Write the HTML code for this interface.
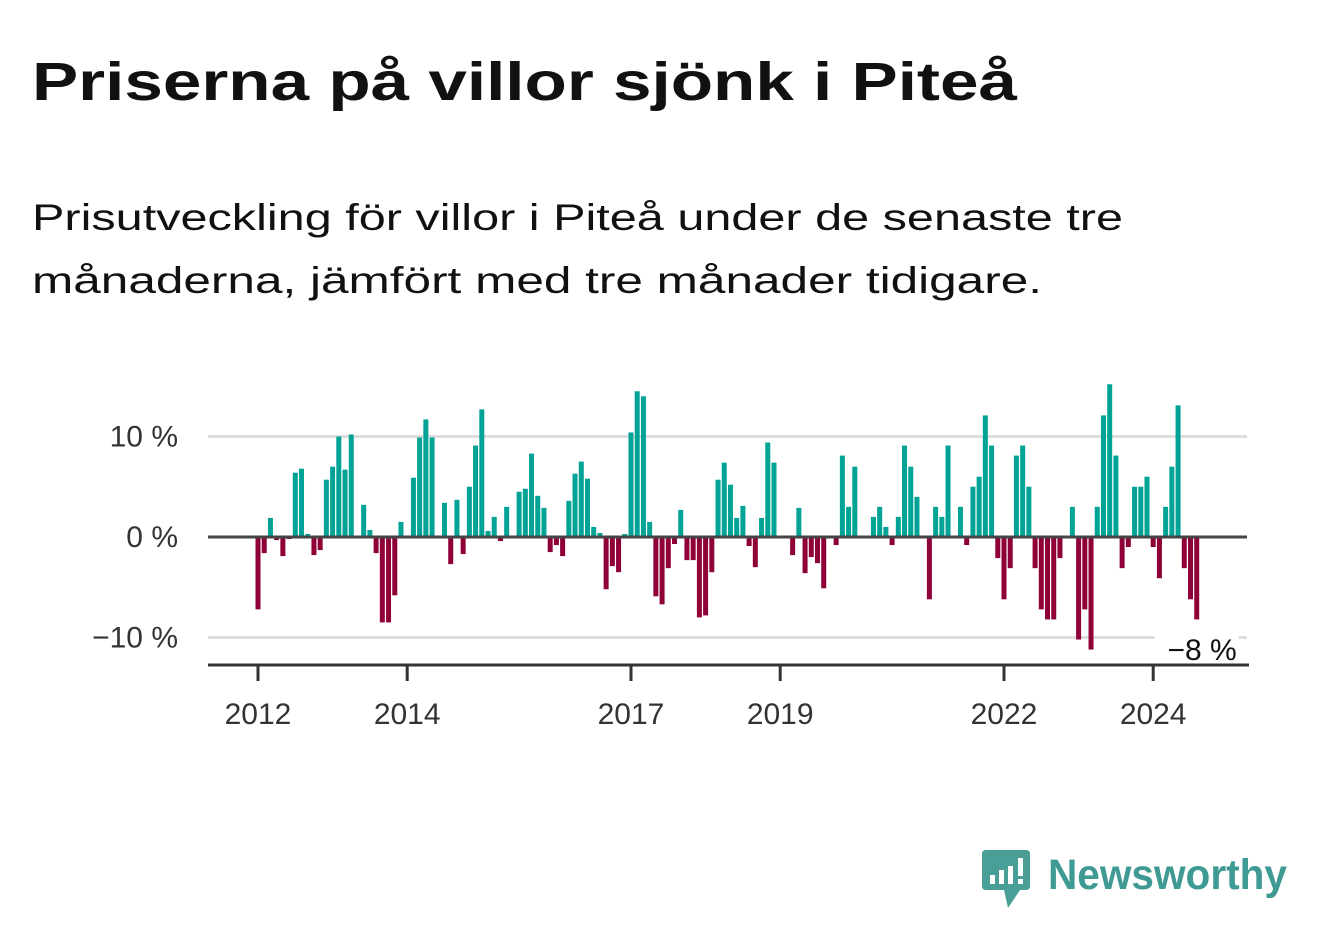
<!DOCTYPE html>
<html><head><meta charset="utf-8"><style>
html,body{margin:0;padding:0;background:#fff;}
svg{display:block;font-family:"Liberation Sans",sans-serif;}
</style></head><body>
<svg id="chart" width="1322" height="939" viewBox="0 0 1322 939" xmlns="http://www.w3.org/2000/svg">
<text x="32" y="100" font-size="54" font-weight="bold" fill="#111" textLength="985" lengthAdjust="spacingAndGlyphs">Priserna på villor sjönk i Piteå</text>
<text x="32" y="230" font-size="37" fill="#111" textLength="1091" lengthAdjust="spacingAndGlyphs">Prisutveckling för villor i Piteå under de senaste tre</text>
<text x="32" y="293" font-size="37" fill="#111" textLength="1010" lengthAdjust="spacingAndGlyphs">månaderna, jämfört med tre månader tidigare.</text>
<g id="grid"></g>
<g id="bars"></g>
<g id="axis"></g>
<g>
<path d="M986 850 H1026 Q1030 850 1030 854 V886 Q1030 890 1026 890 H1020 L1008 908 L1004 890 H986 Q982 890 982 886 V854 Q982 850 986 850 Z" fill="#4a9e98"/>
<rect x="990" y="875" width="5" height="9" fill="#fff"/>
<rect x="999" y="870" width="5" height="14" fill="#fff"/>
<rect x="1008" y="866" width="5" height="18" fill="#fff"/>
<rect x="1018" y="858" width="5" height="18" fill="#fff"/>
<rect x="1018" y="879" width="5" height="5" fill="#fff"/>
<text x="1048" y="889" font-size="43" font-weight="bold" fill="#3f9a94" textLength="239" lengthAdjust="spacingAndGlyphs">Newsworthy</text>
</g>
</svg>
<script>
const values = [-7.2,-1.6,1.9,-0.3,-1.9,-0.2,6.4,6.8,0.3,-1.8,-1.3,5.7,7.0,10.0,6.7,10.2,0,3.2,0.7,-1.6,-8.5,-8.5,-5.8,1.5,
0,5.9,9.9,11.7,9.9,0,3.4,-2.7,3.7,-1.7,5.0,9.1,12.7,0.6,2.0,-0.4,3.0,0,4.5,4.8,8.3,4.1,2.9,-1.5,-0.8,-1.9,3.6,6.3,7.5,5.8,1.0,0.4,-5.2,-2.9,-3.5,0.3,
10.4,14.5,14.0,1.5,-5.9,-6.7,-3.1,-0.7,2.7,-2.3,-2.3,-8.0,-7.8,-3.5,5.7,7.4,5.2,1.9,3.1,-0.9,-3.0,1.9,9.4,7.4,0,0,
-1.8,2.9,-3.6,-2.0,-2.6,-5.1,0,-0.8,8.1,3.0,7.0,0,0,2.0,3.0,1.0,-0.8,2.0,9.1,7.0,4.0,0,-6.2,3.0,2.0,9.1,0,3.0,-0.8,5.0,6.0,12.1,9.1,-2.1,
-6.2,-3.1,8.1,9.1,5.0,-3.1,-7.2,-8.2,-8.2,-2.1,0,3.0,-10.2,-7.2,-11.2,3.0,12.1,15.2,8.1,-3.1,-1.0,5.0,5.0,6.0,
-1.0,-4.1,3.0,7.0,13.1,-3.1,-6.2,-8.2];
const startYear = 2012;
const yTicks = [10, 0, -10];
const yTickLabels = ["10 %", "0 %", "−10 %"];
const xTickYears = [2012, 2014, 2017, 2019, 2022, 2024];
const lastLabel = "−8 %";

const NS = "http://www.w3.org/2000/svg";
const x0 = 258, pxPerMonth = 74.6/12;
function xScale(i){ return x0 + i*pxPerMonth; }
function yScale(v){ return 537 - v*10.05; }
function mk(tag, attrs, parent){ const e=document.createElementNS(NS,tag); for(const k in attrs) e.setAttribute(k,attrs[k]); parent.appendChild(e); return e; }

const grid = document.getElementById('grid');
yTicks.forEach((t,k)=>{
  const y=yScale(t);
  const ln = mk('line',{x1:208,x2:1247,y1:y,y2:y,stroke:t===0?'#444':'#ddd','stroke-width':t===0?3:3},grid);
  
  
  const tx = mk('text',{x:178,y:y+10,'font-size':30,fill:'#333','text-anchor':'end'},grid);
  tx.textContent = yTickLabels[k];
  
  
});

const bars = document.getElementById('bars');
values.forEach((v,i)=>{
  if(v===0) return;
  const x=xScale(i)-2.5, y=v>0?yScale(v):yScale(0), h=Math.abs(yScale(v)-yScale(0));
  const r = mk('rect',{x:x,y:y,width:5,height:h,fill:v>0?'#00a396':'#8f0038'},bars);
  
  
});
// redraw zero line above bars
const zl = mk('line',{x1:208,x2:1247,y1:yScale(0),y2:yScale(0),stroke:'#444','stroke-width':3},bars);



const axis = document.getElementById('axis');
const al = mk('line',{x1:208,x2:1249,y1:665,y2:665,stroke:'#333','stroke-width':3},axis);


xTickYears.forEach(yr=>{
  const x=xScale((yr-startYear)*12);
  const tk = mk('line',{x1:x,x2:x,y1:665,y2:681,stroke:'#333','stroke-width':3},axis);
  
  
  const t = mk('text',{x:x,y:724,'font-size':30,fill:'#333','text-anchor':'middle'},axis);
  t.textContent = yr;
  
  
});
const lx = xScale(values.length-1);
const bg = mk('rect',{x:lx-42,y:632,width:84,height:30,fill:'#fff'},axis);


const lt = mk('text',{x:lx+40,y:660,'font-size':30,fill:'#111','text-anchor':'end'},axis);
lt.textContent = lastLabel;


</script>
</body></html>
